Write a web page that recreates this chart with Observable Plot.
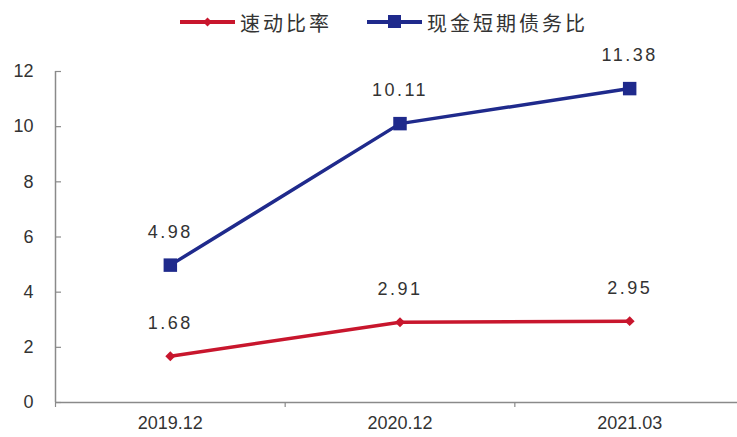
<!DOCTYPE html>
<html>
<head>
<meta charset="utf-8">
<script src="https://cdn.jsdelivr.net/npm/d3@7"></script>
<script src="https://cdn.jsdelivr.net/npm/@observablehq/plot@0.6"></script>
<style>
  html, body { margin: 0; padding: 0; background: #fff; width: 737px; height: 437px; overflow: hidden; }
  #legend { position: relative; height: 40px; font-family: "Noto Sans CJK SC", sans-serif; font-size: 20px; color: #333; }
  .item { position: absolute; top: 8px; display: flex; align-items: center; height: 28px; letter-spacing: 3px; }
  .item svg { margin-right: 5px; }
</style>
</head>
<body>
<div id="legend"></div>
<div id="chart"></div>
<script>
const categories = ["2019.12", "2020.12", "2021.03"];
const quickRatio = [1.68, 2.91, 2.95];
const cashShortDebt = [4.98, 10.11, 11.38];
const yTicks = [0, 2, 4, 6, 8, 10, 12];
const seriesNames = ["速动比率", "现金短期债务比"];
const seriesColors = ["#C8162D", "#1F2A8C"];

const red = seriesColors[0], blue = seriesColors[1];
const idx = categories.map((_, i) => i);
const redData = idx.map(i => ({i, v: quickRatio[i]}));
const blueData = idx.map(i => ({i, v: cashShortDebt[i]}));
const axisColor = "#8a8a8a";
const numFont = "Liberation Sans, Arial, sans-serif";

// legend
const legend = document.getElementById("legend");
const lefts = [180, 367];
seriesNames.forEach((name, k) => {
  const it = document.createElement("div");
  it.className = "item";
  it.style.left = lefts[k] + "px";
  const marker = k === 0
    ? `<path d="M27.5,9.5 L32,14 L27.5,18.5 L23,14 Z" fill="${seriesColors[k]}"/>`
    : `<rect x="21" y="7" width="13" height="13" fill="${seriesColors[k]}"/>`;
  it.innerHTML = `<svg width="55" height="28"><line x1="0" x2="55" y1="14" y2="14" stroke="${seriesColors[k]}" stroke-width="4"/>${marker}</svg><span>${name}</span>`;
  legend.appendChild(it);
});

const chart = Plot.plot({
  width: 737,
  height: 397,
  marginLeft: 55,
  marginRight: 0,
  marginTop: 31,
  marginBottom: 35,
  style: {fontFamily: numFont, fontSize: "18px", color: "#333", overflow: "visible"},
  x: {type: "linear", domain: [-0.5, 2.5], range: [55, 744], axis: null, label: null},
  y: {domain: [0, 12], axis: null, label: null},
  marks: [
    // y axis line
    Plot.ruleX([-0.5], {y1: 0, y2: 12, stroke: axisColor, strokeWidth: 1.5}),
    // y ticks inward (shifted to the inside of the axis line)
    Plot.axisY({ticks: yTicks, tickSize: 6, dx: 6, tickFormat: () => "", label: null, stroke: axisColor, strokeWidth: 1.2}),
    Plot.axisY({ticks: yTicks, tickSize: 0, tickPadding: 22, label: null, fontSize: 18, fill: "#333"}),
    // x axis line
    Plot.ruleY([0], {stroke: axisColor, strokeWidth: 1.5}),
    Plot.axisX({ticks: [-0.5, 0.5, 1.5, 2.5], tickSize: 5, tickFormat: () => "", label: null, stroke: axisColor, strokeWidth: 1.2}),
    Plot.axisX({ticks: idx, tickSize: 0, tickPadding: 14, tickFormat: i => categories[i], label: null, fontSize: 18, fill: "#333"}),
    // lines
    Plot.line(blueData, {x: "i", y: "v", stroke: blue, strokeWidth: 3.5}),
    Plot.dot(blueData, {x: "i", y: "v", symbol: "square", r: 7.6, fill: blue}),
    Plot.line(redData, {x: "i", y: "v", stroke: red, strokeWidth: 3.5}),
    Plot.dot(redData, {x: "i", y: "v", symbol: "diamond2", r: 4.5, fill: red}),
    // labels
    Plot.text(blueData, {x: "i", y: "v", text: d => d.v.toFixed(2), dy: -33, fontSize: 18, fill: "#333"}),
    Plot.text(redData, {x: "i", y: "v", text: d => d.v.toFixed(2), dy: -33, fontSize: 18, fill: "#333"})
  ]
});
document.getElementById("chart").appendChild(chart);
// letter spacing for data labels
chart.querySelectorAll("g[aria-label='text'] text").forEach(t => t.setAttribute("letter-spacing", "2.5"));
</script>
</body>
</html>
